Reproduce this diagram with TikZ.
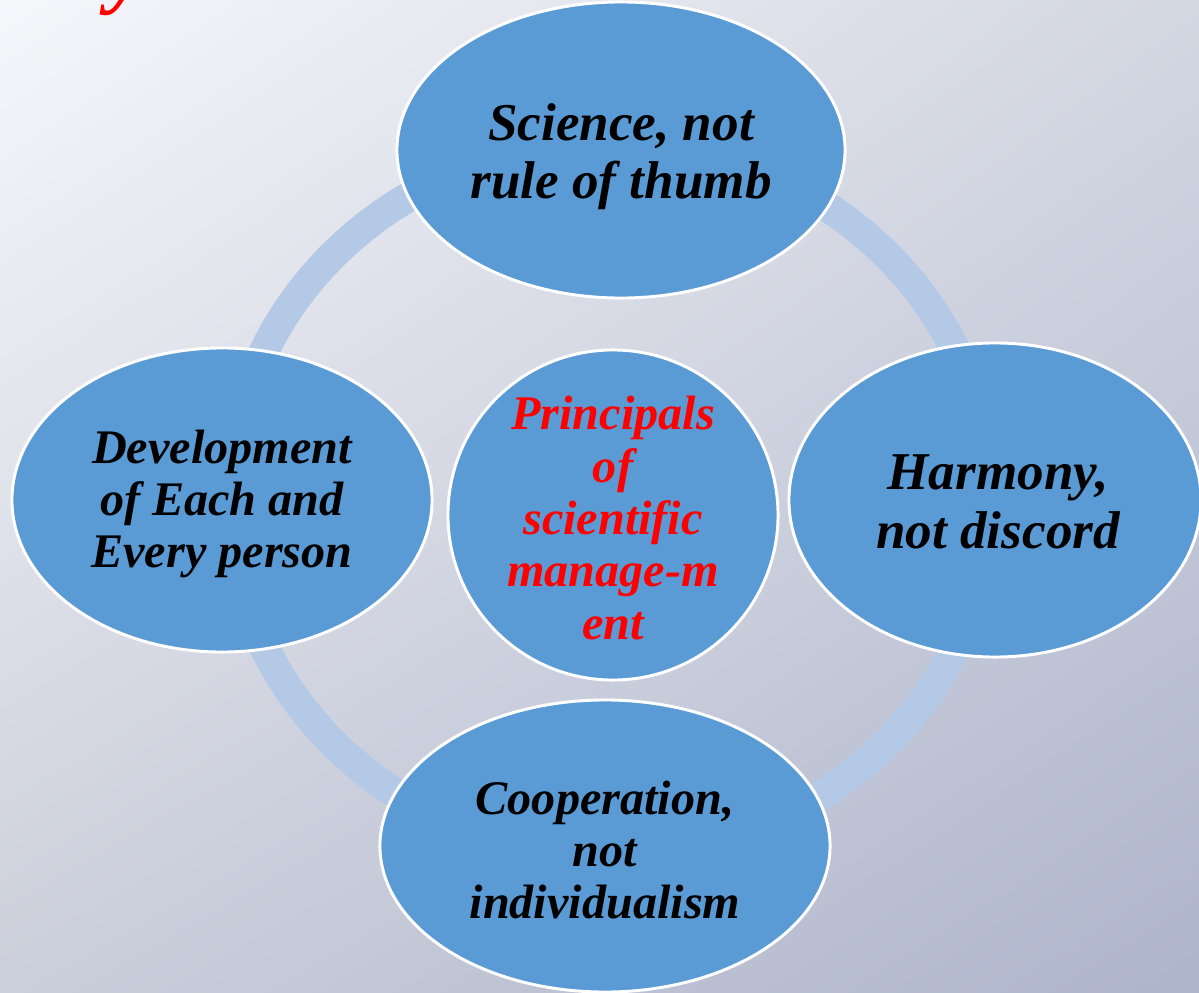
\documentclass[tikz,border=0pt]{standalone}
\usepackage{fontspec}
\setmainfont{Liberation Serif}
\usetikzlibrary{shapes.geometric,shadings}
\definecolor{bgTL}{HTML}{F6F7FB}
\definecolor{bgTR}{HTML}{D3D7E2}
\definecolor{bgBL}{HTML}{CBCFDB}
\definecolor{bgBR}{HTML}{AEB4CB}
\definecolor{bubble}{HTML}{5B9BD5}
\definecolor{ringc}{HTML}{B4C9E6}
\definecolor{titlered}{HTML}{FF0000}
\begin{document}
\begin{tikzpicture}[x=0.025cm,y=-0.025cm,
  bubble/.style={ellipse,fill=bubble,draw=white,line width=2.1pt,inner sep=0pt},
  bigtext/.style={align=center,inner sep=0pt,text=black,font=\bfseries\itshape\fontsize{37.8}{41.5}\selectfont},
  smalltext/.style={align=center,inner sep=0pt,text=black,font=\bfseries\itshape\fontsize{34.3}{37.3}\selectfont}]
\useasboundingbox (0,0) rectangle (1199,993);
\shade[upper left=bgTL,upper right=bgTR,lower left=bgBL,lower right=bgBR] (0,0) rectangle (1199,993);
\begin{scope}
\clip (0,0) rectangle (1199,993);
\node[anchor=base west,inner sep=0pt,text=titlered,font=\bfseries\itshape\fontsize{60}{60}\selectfont] (ttl) at (108,-2) {y};
\coordinate (rc) at (610,499);
\draw[ringc,line width=0.75cm] (rc) ellipse [x radius=9.5cm,y radius=8.9cm];
\node[bubble,minimum width=11.2cm,minimum height=7.4cm] (top) at (621,150) {};
\node[bigtext] (topT) at (621,157) {Science, not\\rule of thumb};
\node[bubble,minimum width=10.5cm,minimum height=7.6cm] (left) at (222,500) {};
\node[smalltext] (leftT) at (222,504) {Development\\of Each and\\Every person};
\node[bubble,minimum width=10.3cm,minimum height=7.85cm] (right) at (995,500) {};
\node[bigtext] (rightT) at (998,502) {Harmony,\\not discord};
\node[bubble,minimum width=11.25cm,minimum height=7.3cm] (bottom) at (605,846) {};
\node[smalltext] (bottomT) at (605,850) {Cooperation,\\not\\individualism};
\node[bubble,circle,minimum size=8.25cm] (center) at (613,515) {};
\node[smalltext,text=titlered] (centerT) at (613,518) {Principals\\of\\scientific\\manage-m\\ent};
\end{scope}
\end{tikzpicture}
\end{document}
